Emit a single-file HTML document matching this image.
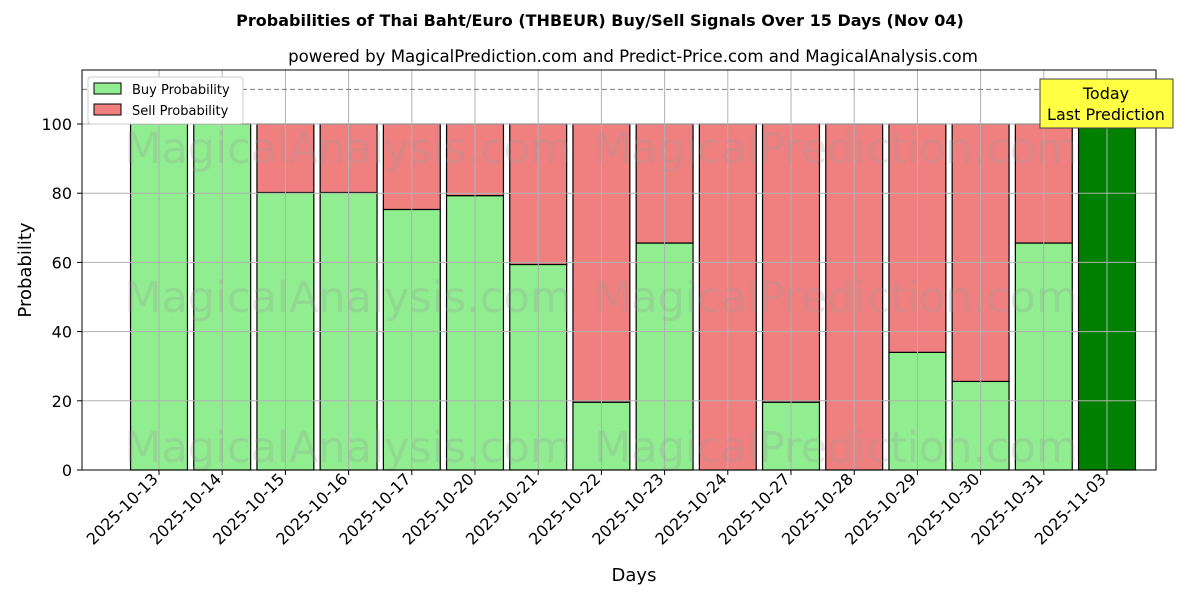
<!DOCTYPE html>
<html><head><meta charset="utf-8"><style>
body{margin:0;background:#fff}
svg text{font-family:"DejaVu Sans","Liberation Sans",sans-serif}
</style></head><body>
<svg id="chart" width="1200" height="600" xmlns="http://www.w3.org/2000/svg">
<text x="600" y="26" text-anchor="middle" font-size="16" font-weight="bold">Probabilities of Thai Baht/Euro (THBEUR) Buy/Sell Signals Over 15 Days (Nov 04)</text>
<text x="633" y="62" text-anchor="middle" font-size="16.6">powered by MagicalPrediction.com and Predict-Price.com and MagicalAnalysis.com</text>
<g id="bars"></g>
<g id="grid"></g>
<g id="wm" fill="#999" opacity="0.25" font-size="43">
<text x="348" y="163" text-anchor="middle">MagicalAnalysis.com</text>
<text x="836" y="163" text-anchor="middle">MagicalPrediction.com</text>
<text x="348" y="312" text-anchor="middle">MagicalAnalysis.com</text>
<text x="836" y="312" text-anchor="middle">MagicalPrediction.com</text>
<text x="348" y="462" text-anchor="middle">MagicalAnalysis.com</text>
<text x="836" y="462" text-anchor="middle">MagicalPrediction.com</text>
</g>
<line x1="82" x2="1156" y1="89.4" y2="89.4" stroke="#777" stroke-dasharray="5,3"/>
<rect x="82" y="70" width="1074" height="400" fill="none" stroke="#000"/>
<g id="axes"></g>
<text x="634" y="581" text-anchor="middle" font-size="18">Days</text>
<text transform="translate(31,270) rotate(-90)" text-anchor="middle" font-size="18">Probability</text>
<g>
<rect x="88" y="77" width="155" height="47" fill="#fff" stroke="#ccc" rx="3"/>
<rect x="94" y="83" width="27" height="11" fill="#90ee90" stroke="#000"/>
<text x="132" y="94" font-size="13">Buy Probability</text>
<rect x="94" y="104" width="27" height="11" fill="#f08080" stroke="#000"/>
<text x="132" y="115" font-size="13">Sell Probability</text>
</g>
<g>
<rect x="1040" y="79" width="133" height="49" fill="#ffff44" stroke="#444"/>
<text x="1106" y="99" text-anchor="middle" font-size="16">Today</text>
<text x="1106" y="120" text-anchor="middle" font-size="16">Last Prediction</text>
</g>
</svg>
<script>
const categories=["2025-10-13","2025-10-14","2025-10-15","2025-10-16","2025-10-17","2025-10-20","2025-10-21","2025-10-22","2025-10-23","2025-10-24","2025-10-27","2025-10-28","2025-10-29","2025-10-30","2025-10-31","2025-11-03"];
const buyValues=[100,100,80.2,80.2,75.3,79.3,59.4,19.6,65.6,0,19.6,0,34,25.6,65.6,100];
const sellValues=[0,0,19.8,19.8,24.7,20.7,40.6,80.4,34.4,100,80.4,100,66,74.4,34.4,0];
const yTicks=[0,20,40,60,80,100];
const NS="http://www.w3.org/2000/svg";
const yS=v=>470-v*3.46;
const step=63.2;
const xS=i=>159+i*step;
const bw=56.9;
function mk(t,a,p){const e=document.createElementNS(NS,t);for(const k in a)e.setAttribute(k,a[k]);p.appendChild(e);return e;}
const grid=document.getElementById('grid'),bars=document.getElementById('bars'),axes=document.getElementById('axes');
yTicks.forEach(v=>{
 const l=mk('line',{x1:82,x2:1156,y1:yS(v),y2:yS(v),stroke:'#b0b0b0'},grid);
 
 
 mk('line',{x1:77,x2:82,y1:yS(v),y2:yS(v),stroke:'#000'},axes);
 const t=mk('text',{x:72,y:yS(v)+6,'text-anchor':'end','font-size':16},axes);t.textContent=v;
 
 
});
categories.forEach((c,i)=>{
 const x=xS(i);
 const g=mk('line',{x1:x,x2:x,y1:70,y2:470,stroke:'#b0b0b0'},grid);
 
 
 const last=i===categories.length-1;
 const b=mk('rect',{x:x-bw/2,y:yS(buyValues[i]),width:bw,height:yS(0)-yS(buyValues[i]),fill:last?'#008000':'#90ee90',stroke:'#000','stroke-width':1.2},bars);
 
 
 const top=buyValues[i]+sellValues[i];
 const s=mk('rect',{x:x-bw/2,y:yS(top),width:bw,height:yS(buyValues[i])-yS(top),fill:'#f08080',stroke:'#000','stroke-width':1.2},bars);
 
 
 mk('line',{x1:x,x2:x,y1:470,y2:475,stroke:'#000'},axes);
 const t=mk('text',{x:x,y:480,'text-anchor':'end','font-size':16,transform:`rotate(-45 ${x} 480)`},axes);t.textContent=c;
 
 
});
</script>
</body></html>
